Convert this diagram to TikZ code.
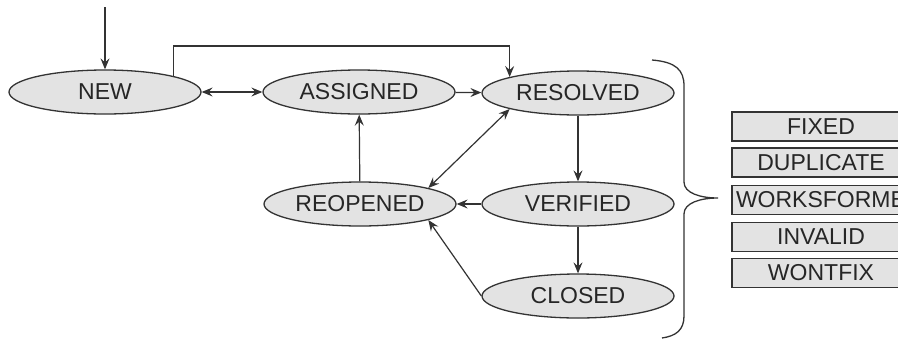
\documentclass[tikz,border=0pt]{standalone}
\usepackage{fontspec}
\setmainfont{Liberation Sans}
\usetikzlibrary{shapes.geometric,arrows.meta}
\begin{document}
\begin{tikzpicture}[x=1pt, y=-1pt, every node/.style={font=\fontsize{23}{27}\selectfont, text=black!85}]
  \tikzstyle{st}=[ellipse,draw=black!80,fill=black!11,line width=1.3pt,minimum width=192pt,minimum height=44pt,inner sep=0pt]
  \tikzstyle{res}=[rectangle,draw=black!80,fill=black!11,line width=1.3pt,minimum width=178pt,minimum height=29pt,inner sep=0pt]
  \tikzstyle{tr}=[draw=black!80,line width=1.2pt,-{Stealth[length=11pt,width=9pt,inset=4pt]}]
  \tikzstyle{both}=[tr,{Stealth[length=11pt,width=9pt,inset=4pt]}-{Stealth[length=11pt,width=9pt,inset=4pt]}]
  \useasboundingbox (0,0) rectangle (898,338);
  \clip (0,0) rectangle (898,338);
  \node[st] (new) at (105,92) {NEW};
  \node[st] (asg) at (359,92) {ASSIGNED};
  \node[st] (rsv) at (578,93) {RESOLVED};
  \node[st] (reo) at (360,204) {REOPENED};
  \node[st] (ver) at (578,204) {VERIFIED};
  \node[st] (clo) at (578,296) {CLOSED};
  \coordinate (in) at (105,7);
  \draw[tr] (in) -- (new);
  \draw[tr] (new.north east) -- (new.north east |- 0,46) -| (rsv.north west);
  \draw[both] (new) -- (asg);
  \draw[tr] (asg) -- (rsv);
  \draw[tr] (rsv) -- (ver);
  \draw[tr] (ver) -- (clo);
  \draw[tr] (ver) -- (reo);
  \draw[tr] (reo) -- (asg);
  \draw[both] (reo.north east) -- (rsv.south west);
  \draw[tr] (clo.west) -- (reo.south east);
  % resolutions
  \draw[black!80,line width=1.3pt] (652,60) .. controls (676,62) and (684,70) .. (684,86) -- (684,182)
    .. controls (684,193) and (700,198) .. (718,198) .. controls (700,198) and (684,203) .. (684,214)
    -- (684,316) .. controls (684,330) and (676,336) .. (662,338);
  \node[res] (fix) at (821,126.5) {FIXED};
  \node[res] (dup) at (821,162.5) {DUPLICATE};
  \node[res] (wfm) at (821,200) {WORKSFORME};
  \node[res] (inv) at (821,237) {INVALID};
  \node[res] (wfx) at (821,273) {WONTFIX};
\end{tikzpicture}
\end{document}
